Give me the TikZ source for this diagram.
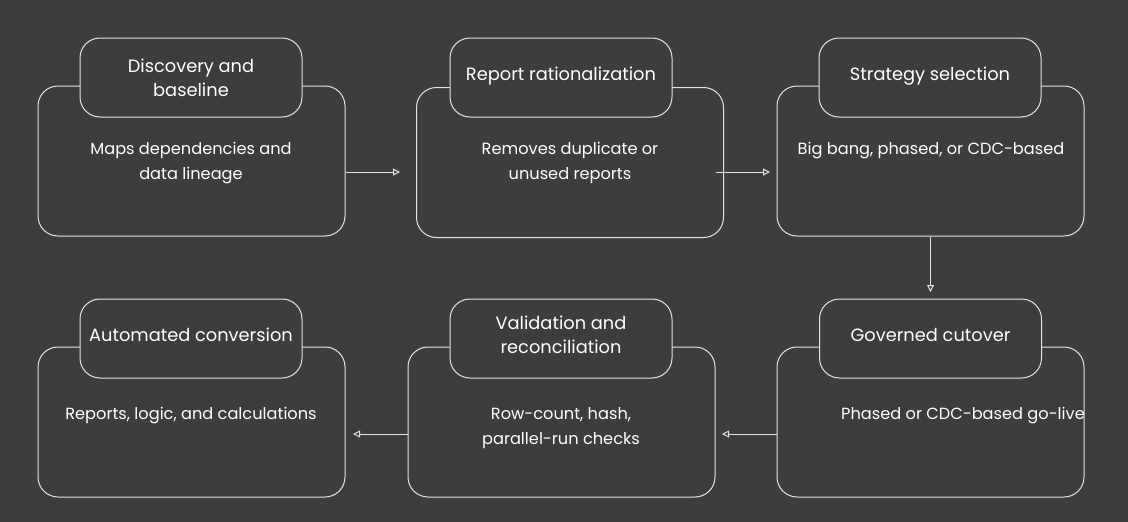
\documentclass[tikz,border=0pt]{standalone}
\usepackage{fontspec}
\setmainfont{Poppins}
\usetikzlibrary{arrows.meta,positioning}
\definecolor{bgc}{HTML}{3D3D3D}
\definecolor{linec}{HTML}{E4E4E4}

\begin{document}
\begin{tikzpicture}[x=1pt, y=-1pt, >={Triangle[open,length=7pt,width=7pt]},
    stage/.style={draw=linec, line width=1pt, rounded corners=20pt, minimum width=307pt, minimum height=150pt},
    head/.style={draw=linec, line width=1pt, fill=bgc, rounded corners=20pt, minimum width=222pt, minimum height=79pt,
        text=white, align=center, font=\fontsize{17.8}{24}\selectfont},
    note/.style={text=white, align=center, anchor=north, font=\fontsize{16.2}{25}\selectfont},
    flow/.style={->, draw=linec, line width=1pt}]

    % background
    \fill[bgc] (0,0) rectangle (1128,522);
    \useasboundingbox (0,0) rectangle (1128,522);

    % top row
    \node[stage] (disc) at (191.5,161) {};
    \node[stage] (rat) at (570,162.5) {};
    \node[stage] (strat) at (930.5,161) {};
    \node[head] (disc-head) at (191,77.5) {Discovery and\\baseline};
    \node[head] (rat-head) at (561,77.5) {Report rationalization\\[-17pt]\mbox{}};
    \node[head] (strat-head) at (930,77.5) {Strategy selection\\[-17pt]\mbox{}};
    \node[note] (disc-text) at (191,139) {Maps dependencies and\\data lineage};
    \node[note] (rat-text) at (570,139) {Removes duplicate or\\unused reports};
    \node[note] (strat-text) at (931,139) {Big bang, phased, or CDC-based};

    % bottom row
    \node[stage] (conv) at (191.5,422) {};
    \node[stage] (val) at (561.5,422) {};
    \node[stage] (cut) at (930.5,422) {};
    \node[head] (conv-head) at (191,338.5) {Automated conversion\\[-17pt]\mbox{}};
    \node[head] (val-head) at (561,338.5) {Validation and\\reconciliation\\[-16pt]\mbox{}};
    \node[head] (cut-head) at (930.5,338.5) {Governed cutover\\[-17pt]\mbox{}};
    \node[note] (conv-text) at (191,404) {Reports, logic, and calculations};
    \node[note] (val-text) at (561,404) {Row-count, hash,\\parallel-run checks};
    \node[note] (cut-text) at (963,404) {Phased or CDC-based go-live};

    % connectors
    \coordinate (e1) at (400,172);
    \coordinate (s2) at (716,172);
    \coordinate (e2) at (770,172);
    \coordinate (e3) at (931,292);
    \coordinate (e4) at (722,434);
    \coordinate (e5) at (353,434);
    \draw[flow] (disc.east |- e1) -- (e1);
    \draw[flow] (s2) -- (e2);
    \draw[flow] (strat.south) -- (strat.south |- e3);
    \draw[flow] (cut.west |- e4) -- (e4);
    \draw[flow] (val.west |- e5) -- (e5);
\end{tikzpicture}
\end{document}
